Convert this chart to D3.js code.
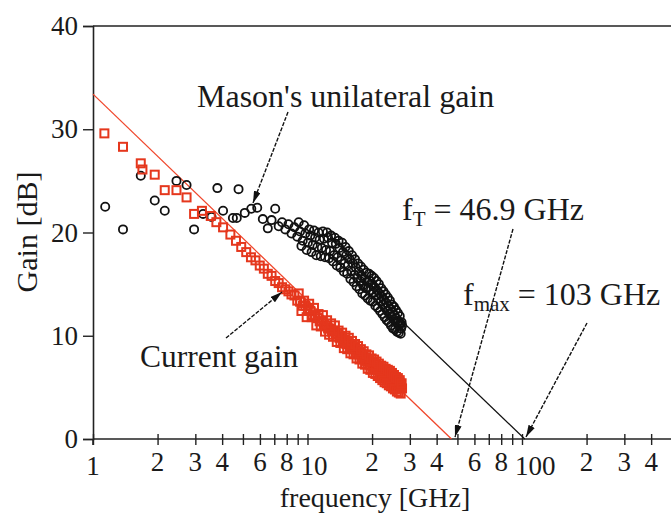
<!DOCTYPE html>
<html><head><meta charset="utf-8">
<script src="https://cdn.jsdelivr.net/npm/d3@7"></script>
<style>
html,body{margin:0;padding:0;background:#fff;}
svg text{font-family:"Liberation Serif","Times New Roman",serif;fill:#1a1a1a;}
</style></head>
<body>
<svg id="c" width="671" height="522"></svg>
<script>
// ---- data ----
const yTicks = [0, 10, 20, 30, 40];
const xDecades = [1, 10, 100];
const xDecadeLabels = ["1", "10", "100"];
const xMinorTicks = [2,3,4,5,6,7,8,9,20,30,40,50,60,70,80,90,200,300,400,500,600,700,800,900];
const xMinorLabeled = [2,3,4,6,8,20,30,40,60,80,200,300,400];
const xMinorText = ["2","3","4","6","8","2","3","4","6","8","2","3","4"];

// Current gain (red squares)
const currentFreq = [1.13,1.38,1.67,1.70,1.94,2.16,2.45,2.73,2.96,3.22,3.54,3.76,4.04,
  4.37,4.64,4.91,5.18,5.45,5.72,5.99,6.26,6.53,6.80,7.07,7.34,7.61,7.88,8.15,8.42,8.69,8.96,
  9.23,9.50,9.77,10.04,10.31,10.58,10.85,11.12,11.39,11.66,11.93,12.20,12.47,12.74,13.01,13.28,
  13.55,13.82,14.09,14.36,14.63,14.90,15.17,15.44,15.71,15.98,16.25,16.52,16.79,17.06,17.33,
  17.60,17.87,18.14,18.41,18.68,18.95,19.22,19.49,19.76,20.03,20.30,20.57,20.84,21.11,21.38,
  21.65,21.92,22.19,22.46,22.73,23.00,23.27,23.54,23.81,24.08,24.35,24.62,24.89,25.16,25.43,
  25.70,25.97,26.24,26.51,26.78,27.05,27.32,27.59,
  9.10,9.37,9.64,9.91,10.18,10.45,10.72,10.99,11.26,11.53,11.80,12.07,12.34,12.61,12.88,13.15,
  13.42,13.69,13.96,14.23,14.50,14.77,15.04,15.31,15.58,15.85,16.12,16.39,16.66,16.93,17.20,
  17.47,17.74,18.01,18.28,18.55,18.82,19.09,19.36,19.63,19.90,20.17,20.44,20.71,20.98,21.25,
  21.52,21.79,22.06,22.33,22.60,22.87,23.14,23.41,23.68,23.95,24.22,24.49,24.76,25.03,25.30,
  25.57,25.84,26.11,26.38,26.65,26.92,27.19,27.46];
const currentGain = [29.6,28.3,26.7,26.1,25.6,24.1,24.1,23.4,21.8,22.1,21.6,21.0,20.5,
  19.8,19.2,18.6,18.1,17.6,17.3,16.8,16.5,16.0,15.8,15.3,15.1,14.7,14.5,14.3,14.0,13.9,13.4,
  13.3,12.9,12.9,12.5,12.4,12.0,11.9,11.7,11.4,11.4,11.0,11.0,10.7,10.7,10.4,10.5,
  10.1,10.2,9.8,9.9,9.5,9.6,9.2,9.4,8.9,9.1,8.7,8.9,8.4,8.7,8.2,
  8.4,7.9,8.2,7.7,7.9,7.5,7.7,7.2,7.5,7.0,7.4,6.9,7.2,6.7,7.0,
  6.5,6.8,6.3,6.6,6.1,6.5,6.0,6.3,5.8,6.2,5.7,6.0,5.5,5.9,5.4,
  5.8,5.3,5.6,5.1,5.5,5.0,5.3,4.9,
  14.1,12.4,13.4,11.8,13.1,11.8,12.7,11.0,12.1,10.9,12.0,10.4,11.5,10.1,11.2,9.9,
  11.0,9.4,10.5,9.3,10.3,8.8,10.0,8.7,9.8,8.3,9.5,8.2,9.2,7.8,9.0,
  7.7,8.7,7.3,8.5,7.2,8.2,6.8,8.1,6.7,7.8,6.4,7.7,6.3,7.5,6.1,
  7.3,5.9,7.1,5.7,7.0,5.5,6.8,5.4,6.7,5.2,6.6,5.1,6.4,4.9,6.2,
  4.8,6.0,4.6,5.9,4.5,5.7,4.4,5.4];

// Mason's unilateral gain (black circles)
const masonFreq = [1.14,1.38,1.67,1.94,2.16,2.45,2.73,2.96,3.26,3.57,3.80,4.04,4.49,4.68,4.77,
  5.10,5.47,5.83,6.19,
  6.53,6.80,7.07,7.34,7.61,7.88,8.15,8.42,8.69,8.96,9.23,9.50,9.77,10.04,10.31,10.58,10.85,
  11.12,11.39,11.66,11.93,12.20,12.47,12.74,13.01,13.28,13.55,13.82,14.09,14.36,14.63,14.90,
  15.17,15.44,15.71,15.98,16.25,16.52,16.79,17.06,17.33,17.60,17.87,18.14,18.41,18.68,18.95,
  19.22,19.49,19.76,20.03,20.30,20.57,20.84,21.11,21.38,21.65,21.92,22.19,22.46,22.73,23.00,
  23.27,23.54,23.81,24.08,24.35,24.62,24.89,25.16,25.43,25.70,25.97,26.24,26.51,26.78,27.05,
  27.32,27.59,
  9.10,9.37,9.64,9.91,10.18,10.45,10.72,10.99,11.26,11.53,11.80,12.07,12.34,12.61,12.88,13.15,
  13.42,13.69,13.96,14.23,14.50,14.77,15.04,15.31,15.58,15.85,16.12,16.39,16.66,16.93,17.20,
  17.47,17.74,18.01,18.28,18.55,18.82,19.09,19.36,19.63,19.90,20.17,20.44,20.71,20.98,21.25,
  21.52,21.79,22.06,22.33,22.60,22.87,23.14,23.41,23.68,23.95,24.22,24.49,24.76,25.03,25.30,
  25.57,25.84,26.11,26.38,26.65,26.92,27.19,27.46];
const masonGain = [22.5,20.3,25.5,23.1,22.1,25.0,24.6,20.3,21.8,21.5,24.3,22.1,21.4,21.4,24.2,
  21.9,22.3,22.4,21.3,
  20.4,21.2,22.3,20.6,21.0,20.3,20.8,19.9,20.5,19.6,20.1,19.2,19.9,19.0,19.7,18.8,19.5,
  18.6,19.3,18.5,19.4,18.3,19.5,18.2,19.0,17.8,18.9,17.6,18.5,17.3,18.1,17.0,
  17.8,16.8,17.4,16.3,17.0,15.9,16.6,15.6,16.2,15.3,15.8,14.9,15.5,14.6,15.2,
  14.7,15.3,14.4,15.0,14.2,14.7,13.9,14.4,13.6,14.1,13.3,13.8,13.0,13.5,12.7,
  13.2,12.4,12.9,12.1,12.6,11.9,12.3,11.6,12.0,11.4,11.7,11.2,11.4,11.0,11.2,
  10.7,11.0,
  21.0,18.7,20.7,18.3,20.3,18.1,20.2,17.8,20.0,17.7,20.1,17.6,20.0,17.5,19.7,17.2,
  19.5,16.8,19.2,16.6,19.0,16.2,18.6,16.0,18.2,15.5,17.8,15.2,17.4,14.8,17.0,
  14.5,16.7,14.1,16.4,13.9,16.1,13.6,16.0,13.4,15.8,13.3,15.6,12.9,15.3,12.7,
  15.0,12.4,14.6,12.1,14.3,11.8,14.0,11.5,13.7,11.3,13.4,11.0,13.0,10.7,12.8,
  10.6,12.5,10.4,12.2,10.3,11.9,10.2,11.3];

// extrapolation lines (freq, gain)
const currentFitFreq = [1, 46.9];
const currentFitGain = [33.4, 0];
const masonFitFreq = [27.6, 103];
const masonFitGain = [11.4, 0];

// ---- layout ----
const svg = d3.select("#c");
const x = d3.scaleLog().domain([1, 1000]).range([93, 736.5]);
const y = d3.scaleLinear().domain([0, 40]).range([439, 26]);
const RED = "#e5371d", REDLINE = "#f0472c";

// frame: top line
svg.append("line").attr("x1", 93).attr("x2", 736.5).attr("y1", y(40)).attr("y2", y(40))
  .attr("stroke", "#222").attr("stroke-width", 1.6);

// y axis
const yAxis = d3.axisLeft(y).tickValues(yTicks).tickSize(10).tickPadding(5)
  .tickFormat(d3.format("d"));
const gy = svg.append("g").attr("transform", `translate(${x(1)},0)`).call(yAxis);
gy.select(".domain").attr("stroke", "#222").attr("stroke-width", 1.6);
gy.selectAll(".tick line").attr("stroke", "#222").attr("stroke-width", 1.4);
gy.selectAll(".tick text").attr("font-size", 27).attr("font-family", "Liberation Serif").attr("fill", "#2a2a2a");

// x axis (ticks + custom labels)
const xAxis = d3.axisBottom(x).tickValues(xDecades.concat(xMinorTicks)).tickSize(6).tickFormat("");
const gx = svg.append("g").attr("transform", `translate(0,${y(0)})`).call(xAxis);
gx.select(".domain").attr("stroke", "#222").attr("stroke-width", 1.6).attr("d", `M${x(1)},0H${x(1000)}`);
gx.selectAll(".tick line").attr("stroke", "#222").attr("stroke-width", 1.4).attr("y1", -5).attr("y2", 6);
svg.append("line").attr("x1", x(1)).attr("x2", x(1)).attr("y1", y(0)).attr("y2", y(0) + 6)
  .attr("stroke", "#222").attr("stroke-width", 1.6);

svg.append("g").selectAll("text").data(xMinorLabeled).join("text")
  .attr("x", d => x(d)).attr("y", y(0) + 32).attr("text-anchor", "middle")
  .attr("font-size", 27).attr("fill", "#2a2a2a").text((d, i) => xMinorText[i]);
svg.append("g").selectAll("text").data(xDecades).join("text")
  .attr("x", (d, i) => i === 0 ? x(d) : x(d) - 7).attr("y", y(0) + 36)
  .attr("text-anchor", (d, i) => i === 0 ? "middle" : "start")
  .attr("font-size", 27).attr("fill", "#2a2a2a").text((d, i) => xDecadeLabels[i]);

// axis titles
svg.append("text").attr("x", 375).attr("y", 507).attr("text-anchor", "middle")
  .attr("font-size", 28).text("frequency [GHz]");
svg.append("text").attr("transform", "translate(37,232) rotate(-90)").attr("text-anchor", "middle")
  .attr("font-size", 30).text("Gain [dB]");

// fit lines
const line = d3.line().x(d => x(d[0])).y(d => y(d[1]));
svg.append("path").datum(currentFitFreq.map((f, i) => [f, currentFitGain[i]]))
  .attr("d", line).attr("fill", "none").attr("stroke", REDLINE).attr("stroke-width", 1.3);
svg.append("path").datum(masonFitFreq.map((f, i) => [f, masonFitGain[i]]))
  .attr("d", line).attr("fill", "none").attr("stroke", "#111").attr("stroke-width", 1.2);

// Mason circles
svg.append("g").selectAll("circle").data(masonFreq).join("circle")
  .attr("cx", d => x(d)).attr("cy", (d, i) => y(masonGain[i])).attr("r", 4.1)
  .attr("fill", "none").attr("stroke", "#111").attr("stroke-width", 1.8);

// Current gain squares
const s = 8;
svg.append("g").selectAll("rect").data(currentFreq).join("rect")
  .attr("x", d => x(d) - s / 2).attr("y", (d, i) => y(currentGain[i]) - s / 2)
  .attr("width", s).attr("height", s)
  .attr("fill", "none").attr("stroke", RED).attr("stroke-width", 2);

// arrows
const defs = svg.append("defs");
defs.append("marker").attr("id", "ah").attr("viewBox", "0 0 12 7").attr("refX", 12).attr("refY", 3.5)
  .attr("markerWidth", 12).attr("markerHeight", 7).attr("markerUnits", "userSpaceOnUse")
  .attr("orient", "auto")
  .append("path").attr("d", "M0,0L12,3.5L0,7Z").attr("fill", "#111");
const arrows = [
  [288, 112, 253, 203],
  [226, 338, 282, 292],
  [513, 229, 455, 437],
  [587, 323, 526, 437]
];
svg.append("g").selectAll("line").data(arrows).join("line")
  .attr("x1", d => d[0]).attr("y1", d => d[1]).attr("x2", d => d[2]).attr("y2", d => d[3])
  .attr("stroke", "#111").attr("stroke-width", 1.4).attr("stroke-dasharray", "4,1.5")
  .attr("marker-end", "url(#ah)");

// annotations
svg.append("text").attr("x", 197).attr("y", 107).attr("font-size", 32).text("Mason's unilateral gain");
svg.append("text").attr("x", 140).attr("y", 367).attr("font-size", 31.5).text("Current gain");
const t1 = svg.append("text").attr("x", 402).attr("y", 220).attr("font-size", 32);
t1.append("tspan").text("f");
t1.append("tspan").attr("font-size", 21).attr("dy", 6).text("T");
t1.append("tspan").attr("dy", -6).text(" = 46.9 GHz");
const t2 = svg.append("text").attr("x", 463).attr("y", 305).attr("font-size", 32);
t2.append("tspan").text("f");
t2.append("tspan").attr("font-size", 21).attr("dy", 6).text("max");
t2.append("tspan").attr("dy", -6).text(" = 103 GHz");
</script>
</body></html>
